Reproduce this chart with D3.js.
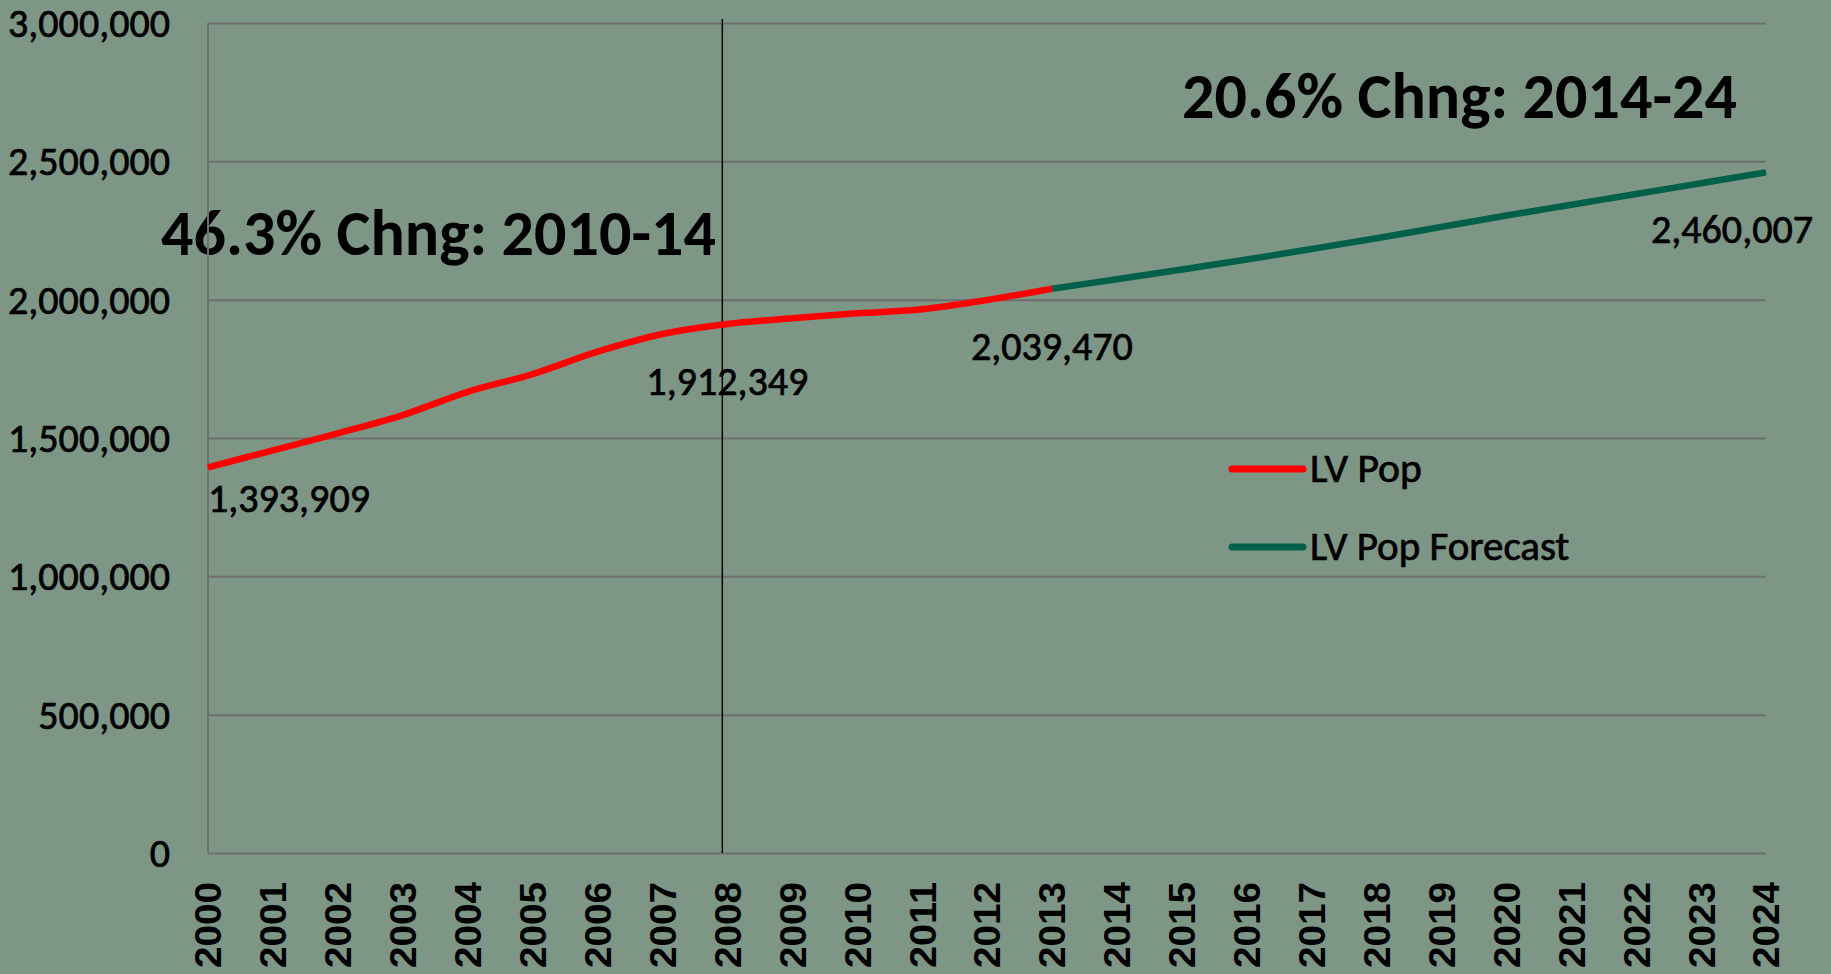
<!DOCTYPE html>
<html>
<head>
<meta charset="utf-8">
<script src="https://cdn.jsdelivr.net/npm/d3@7"></script>
<style>
  html, body { margin: 0; padding: 0; background: #7e9686; overflow: hidden; }
  svg { display: block; }
  text { font-family: Carlito, Calibri, Lato, "Liberation Sans", sans-serif; fill: #000; }
  .heavy { stroke: #000; stroke-width: 0.7px; }
</style>
</head>
<body>
<div id="chart"></div>
<script>
// categories
var years = ["2000", "2001", "2002", "2003", "2004", "2005", "2006", "2007", "2008", "2009", "2010", "2011", "2012",
             "2013", "2014", "2015", "2016", "2017", "2018", "2019", "2020", "2021", "2022", "2023", "2024"];
var actualYears = ["2000", "2001", "2002", "2003", "2004", "2005", "2006", "2007", "2008", "2009", "2010", "2011", "2012", "2013"];
var forecastYears = ["2013", "2014", "2015", "2016", "2017", "2018", "2019", "2020", "2021", "2022", "2023", "2024"];

// series values
var lvPop = [1393909, 1455500, 1517000, 1583000, 1667000, 1731000, 1812000, 1876000, 1912349, 1932700, 1950700, 1965000, 1998800, 2039470];
var lvPopForecast = [2039470, 2074000, 2109000, 2145000, 2183000, 2222000, 2263000, 2304000, 2343000, 2382000, 2421000, 2460007];

// y ticks
var yTicks = [0, 500000, 1000000, 1500000, 2000000, 2500000, 3000000];

// labelled points
var labelYears = ["2000", "2008", "2013", "2024"];
var labelValues = [1393909, 1912349, 2039470, 2460007];

var seriesNames = ["LV Pop", "LV Pop Forecast"];
var seriesColors = ["#ff0000", "#00604a"];
var markerYear = "2008";
var notes = ["46.3% Chng: 2010-14", "20.6% Chng: 2014-24"];

var width = 1831, height = 974;
var plot = {left: 208, right: 1766, top: 23, bottom: 853};

// rough Calibri advance widths (em) so the fallback font keeps the same text widths
var calRegular = {"0": .507, ",": .25, ".": .252, " ": .226, "L": .42, "V": .579, "P": .517, "o": .527, "p": .525,
    "F": .459, "r": .349, "e": .498, "c": .423, "a": .479, "s": .391, "t": .335};
var calBold = {"0": .507, ".": .267, "%": .729, " ": .226, "C": .529, "h": .537, "n": .537, "g": .474, ":": .276, "-": .306};
function calWidth(str, size, bold) {
    var tbl = bold ? calBold : calRegular;
    var w = 0;
    for (var i = 0; i < str.length; i++) {
        var ch = str[i];
        if (ch >= "0" && ch <= "9") ch = "0";
        w += (tbl[ch] !== undefined ? tbl[ch] : .5);
    }
    return w * size;
}

var svg = d3.select("#chart").append("svg")
    .attr("width", width)
    .attr("height", height);

var xScale = d3.scalePoint()
    .domain(years)
    .range([plot.left, plot.right]);

var yScale = d3.scaleLinear()
    .domain([0, 3000000])
    .range([plot.bottom, plot.top]);

// gridlines
var grid = svg.append("g")
    .attr("transform", "translate(" + plot.left + ",0)")
    .call(d3.axisLeft(yScale).tickValues(yTicks).tickSize(-(plot.right - plot.left)).tickFormat(""));
grid.select(".domain").remove();
grid.selectAll("line").attr("stroke", "#6f6f6f").attr("stroke-width", 2);

// left axis line
svg.append("line")
    .attr("x1", plot.left).attr("x2", plot.left)
    .attr("y1", plot.top).attr("y2", plot.bottom)
    .attr("stroke", "#6f6f6f").attr("stroke-width", 2);

// y tick labels
var yAxis = svg.append("g")
    .attr("transform", "translate(170,0)")
    .call(d3.axisLeft(yScale).tickValues(yTicks).tickSize(0).tickPadding(0).tickFormat(d3.format(",")));
yAxis.select(".domain").remove();
yAxis.selectAll("text")
    .attr("class", "heavy")
    .style("font-size", "40px")
    .attr("dy", "0.34em")
    .attr("textLength", function (d) { return calWidth(d3.format(",")(d), 40, false); })
    .attr("lengthAdjust", "spacingAndGlyphs");

// x tick labels, rotated
var xAxis = svg.append("g")
    .attr("transform", "translate(0," + plot.bottom + ")")
    .call(d3.axisBottom(xScale).tickSize(0));
xAxis.select(".domain").remove();
xAxis.selectAll("text")
    .attr("transform", "rotate(-90)")
    .attr("x", -29)
    .attr("y", 0)
    .attr("dy", "0.36em")
    .attr("text-anchor", "end")
    .style("font-family", "'Liberation Sans', Arial, sans-serif")
    .style("font-weight", "bold")
    .style("font-size", "36px")
    .attr("textLength", 86)
    .attr("lengthAdjust", "spacingAndGlyphs");

// vertical marker line (hand-drawn in the original, sits a bit left of the category)
svg.append("line")
    .attr("x1", xScale(markerYear) - 5).attr("x2", xScale(markerYear) - 5)
    .attr("y1", 19).attr("y2", plot.bottom)
    .attr("stroke", "#000").attr("stroke-width", 1.5);

// lines
var line = d3.line()
    .x(function (d) { return xScale(d[0]); })
    .y(function (d) { return yScale(d[1]); })
    .curve(d3.curveCatmullRom.alpha(0));

svg.append("path")
    .datum(forecastYears.map(function (y, i) { return [y, lvPopForecast[i]]; }))
    .attr("d", line)
    .attr("fill", "none")
    .attr("stroke", seriesColors[1])
    .attr("stroke-width", 6.5)
    .attr("stroke-linejoin", "round");

svg.append("path")
    .datum(actualYears.map(function (y, i) { return [y, lvPop[i]]; }))
    .attr("d", line)
    .attr("fill", "none")
    .attr("stroke", seriesColors[0])
    .attr("stroke-width", 6.5)
    .attr("stroke-linejoin", "round");

// data labels
labelYears.forEach(function (yr, i) {
    var px = xScale(yr), py = yScale(labelValues[i]);
    var txt = d3.format(",")(labelValues[i]);
    var anchor = "middle", dx = 0, dy = 71;
    if (i === 0) { anchor = "start"; dy = 45; }
    if (i === labelYears.length - 1) { anchor = "end"; dx = 47; }
    svg.append("text")
        .attr("class", "heavy")
        .attr("x", px + dx)
        .attr("y", py + dy)
        .attr("text-anchor", anchor)
        .style("font-size", "40px")
        .attr("textLength", calWidth(txt, 40, false))
        .attr("lengthAdjust", "spacingAndGlyphs")
        .text(txt);
});

// legend
var legend = svg.append("g").attr("transform", "translate(1230,469)");
seriesNames.forEach(function (name, i) {
    var g = legend.append("g").attr("transform", "translate(0," + (i * 78) + ")");
    g.append("line")
        .attr("x1", 2).attr("x2", 73)
        .attr("stroke", seriesColors[i])
        .attr("stroke-width", 7)
        .attr("stroke-linecap", "round");
    g.append("text")
        .attr("class", "heavy")
        .attr("x", 80)
        .attr("y", 13)
        .style("font-size", "40px")
        .attr("textLength", calWidth(name, 40, false))
        .attr("lengthAdjust", "spacingAndGlyphs")
        .text(name);
});

// annotations
svg.append("text")
    .attr("x", 161).attr("y", 255)
    .style("font-size", "64px").style("font-weight", "bold")
    .attr("textLength", calWidth(notes[0], 64, true))
    .attr("lengthAdjust", "spacingAndGlyphs")
    .text(notes[0]);

svg.append("text")
    .attr("x", 1182).attr("y", 118)
    .style("font-size", "64px").style("font-weight", "bold")
    .attr("textLength", calWidth(notes[1], 64, true))
    .attr("lengthAdjust", "spacingAndGlyphs")
    .text(notes[1]);

// axis line drawn over the first annotation, as in the original
svg.append("line")
    .attr("x1", plot.left).attr("x2", plot.left)
    .attr("y1", 200).attr("y2", 270)
    .attr("stroke", "#6f6f6f").attr("stroke-width", 2);
</script>
</body>
</html>
